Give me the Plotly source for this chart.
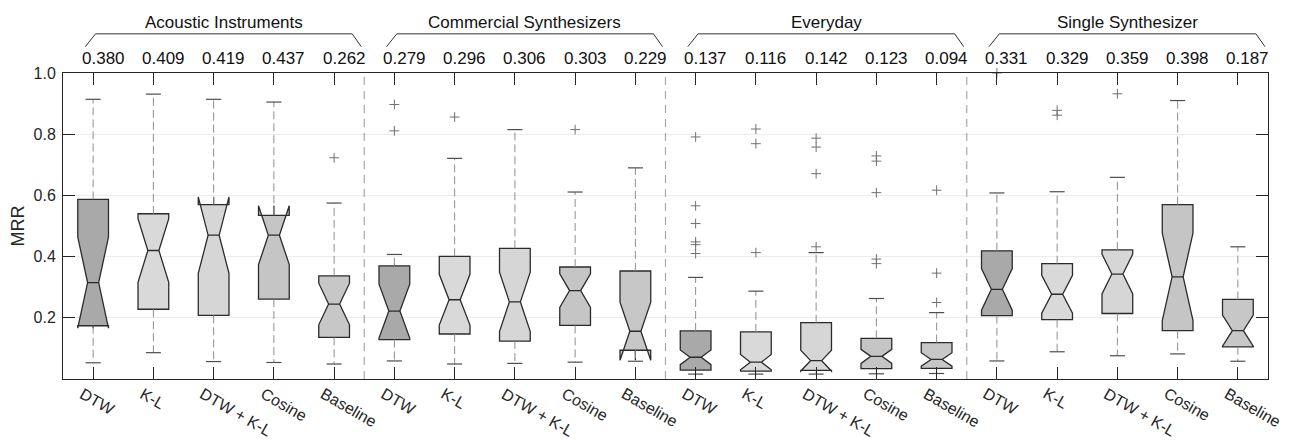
import plotly.graph_objects as go

# ---------------- data ----------------
groups = ["Acoustic Instruments", "Commercial Synthesizers", "Everyday", "Single Synthesizer"]
methods = ["DTW", "K-L", "DTW + K-L", "Cosine", "Baseline"]

mrr = [
    [0.380, 0.409, 0.419, 0.437, 0.262],
    [0.279, 0.296, 0.306, 0.303, 0.229],
    [0.137, 0.116, 0.142, 0.123, 0.094],
    [0.331, 0.329, 0.359, 0.398, 0.187],
]

q1 = [
    [0.174, 0.228, 0.208, 0.261, 0.136],
    [0.129, 0.147, 0.124, 0.175, 0.094],
    [0.029, 0.026, 0.028, 0.034, 0.035],
    [0.207, 0.194, 0.214, 0.158, 0.105],
]
median = [
    [0.315, 0.420, 0.470, 0.470, 0.245],
    [0.222, 0.259, 0.252, 0.289, 0.156],
    [0.071, 0.055, 0.060, 0.074, 0.064],
    [0.293, 0.277, 0.343, 0.334, 0.158],
]
q3 = [
    [0.587, 0.540, 0.570, 0.535, 0.337],
    [0.370, 0.401, 0.427, 0.366, 0.353],
    [0.157, 0.154, 0.184, 0.133, 0.119],
    [0.419, 0.377, 0.422, 0.570, 0.260],
]
notch = [
    [0.149, 0.104, 0.125, 0.096, 0.068],
    [0.088, 0.083, 0.097, 0.055, 0.095],
    [0.024, 0.025, 0.034, 0.023, 0.022],
    [0.068, 0.062, 0.065, 0.143, 0.051],
]
whisker_low = [
    [0.053, 0.086, 0.057, 0.054, 0.049],
    [0.059, 0.049, 0.051, 0.055, 0.058],
    [0.016, 0.016, 0.016, 0.017, 0.018],
    [0.059, 0.089, 0.076, 0.082, 0.058],
]
whisker_high = [
    [0.914, 0.931, 0.914, 0.905, 0.575],
    [0.407, 0.721, 0.815, 0.611, 0.690],
    [0.332, 0.287, 0.413, 0.263, 0.217],
    [0.608, 0.612, 0.659, 0.910, 0.432],
]
outliers = [
    [[], [], [], [], [0.723]],
    [[0.897, 0.811], [0.856], [], [0.815], []],
    [[0.791, 0.566, 0.508, 0.448, 0.439, 0.410], [0.817, 0.769, 0.413],
     [0.787, 0.758, 0.671, 0.432], [0.729, 0.712, 0.609, 0.392, 0.377], [0.617, 0.346, 0.250]],
    [[1.0], [0.878, 0.862], [0.932], [], []],
]

# ---------------- styles ----------------
fill_colors = ["#a9a9aa", "#d9d9da", "#d6d6d7", "#c5c5c6", "#c7c7c8"]
FONT = "Liberation Sans, Arial, Helvetica, sans-serif"
TXT = "#262626"

n_g, n_m = len(groups), len(methods)
pos = lambda g, m: g * n_m + m + 1

fig = go.Figure()

# notched boxes (one trace per method)
for m in range(n_m):
    xs = [pos(g, m) for g in range(n_g)]
    fig.add_trace(go.Box(
        x=xs,
        q1=[q1[g][m] for g in range(n_g)],
        median=[median[g][m] for g in range(n_g)],
        q3=[q3[g][m] for g in range(n_g)],
        lowerfence=[q1[g][m] for g in range(n_g)],
        upperfence=[q3[g][m] for g in range(n_g)],
        notchspan=[notch[g][m] for g in range(n_g)],
        notched=True, notchwidth=0.32,
        width=0.51, whiskerwidth=0,
        fillcolor=fill_colors[m],
        line=dict(color="#2b2b2b", width=1.3),
        boxpoints=False, hoverinfo="skip", showlegend=False,
    ))

# dashed whiskers
wx, wy, cx, cy = [], [], [], []
for g in range(n_g):
    for m in range(n_m):
        p = pos(g, m)
        wx += [p, p, None, p, p, None]
        wy += [q3[g][m], whisker_high[g][m], None, q1[g][m], whisker_low[g][m], None]
        for v in (whisker_high[g][m], whisker_low[g][m]):
            cx += [p - 0.125, p + 0.125, None]
            cy += [v, v, None]
fig.add_trace(go.Scatter(x=wx, y=wy, mode="lines",
                         line=dict(color="#8e8e8e", width=1, dash="8px,4px"),
                         hoverinfo="skip", showlegend=False))
fig.add_trace(go.Scatter(x=cx, y=cy, mode="lines",
                         line=dict(color="#4d4d4d", width=1.2),
                         hoverinfo="skip", showlegend=False))

# outliers
ox, oy = [], []
for g in range(n_g):
    for m in range(n_m):
        for v in outliers[g][m]:
            ox.append(pos(g, m))
            oy.append(v)
fig.add_trace(go.Scatter(x=ox, y=oy, mode="markers",
                         marker=dict(symbol="cross-thin", size=7,
                                     line=dict(color="#707070", width=1)),
                         hoverinfo="skip", showlegend=False, cliponaxis=False))

# group separators
for g in range(1, n_g):
    fig.add_shape(type="line", xref="x", yref="paper",
                  x0=g * n_m + 0.5, x1=g * n_m + 0.5, y0=0, y1=1,
                  line=dict(color="#a8a8a8", width=1.2, dash="8px,6px"))

# MRR values, brackets and group titles
for g in range(n_g):
    first, last = pos(g, 0), pos(g, n_m - 1)
    for m in range(n_m):
        fig.add_annotation(x=pos(g, m), xshift=10, y=1, yref="paper", yshift=15,
                           xanchor="center", yanchor="middle",
                           xref="x", text=f"{mrr[g][m]:.3f}", showarrow=False,
                           font=dict(family=FONT, size=17, color="#111111"))
    fig.add_shape(type="path", xref="x", yref="paper",
                  path=(f"M {first - 0.13} 1.086 L {first + 0.04} 1.128 "
                        f"L {last + 0.30} 1.128 L {last + 0.45} 1.086"),
                  line=dict(color="#333333", width=1))
    fig.add_annotation(x=(first + last) / 2, xshift=10, y=1, yref="paper", yshift=51,
                       xanchor="center", yanchor="middle",
                       xref="x", text=groups[g], showarrow=False,
                       font=dict(family=FONT, size=17, color="#111111"))

# rotated category labels
for g in range(n_g):
    for m in range(n_m):
        fig.add_annotation(x=pos(g, m), xref="x", y=0, yref="paper",
                           xanchor="left", yanchor="top", xshift=-19, yshift=-3,
                           text=methods[m], textangle=30, showarrow=False,
                           font=dict(family=FONT, size=16, color=TXT))

tick_pos = [pos(g, m) for g in range(n_g) for m in range(n_m)]

fig.update_layout(
    width=1286, height=433,
    margin=dict(l=55, r=26, t=65, b=62),
    paper_bgcolor="white", plot_bgcolor="white",
    boxmode="overlay",
    font=dict(family=FONT, size=16, color=TXT),
    xaxis=dict(range=[0.5, 20.5], tickvals=tick_pos, showticklabels=False,
               ticks="inside", ticklen=12, tickcolor="#262626",
               showline=True, linecolor="#262626", linewidth=1, mirror="ticks",
               showgrid=False, zeroline=False, automargin=False),
    yaxis=dict(range=[0, 1], tickvals=[0.2, 0.4, 0.6, 0.8, 1.0],
               ticktext=["0.2", "0.4", "0.6", "0.8", "1.0"],
               ticks="inside", ticklen=12, tickcolor="#262626",
               showline=True, linecolor="#262626", linewidth=1, mirror="ticks",
               showgrid=True, gridcolor="#ececec", gridwidth=1, zeroline=False,
               automargin=False, ticklabelstandoff=3,
               tickfont=dict(family=FONT, size=16, color=TXT),
               title=dict(text="MRR", font=dict(family=FONT, size=18, color=TXT),
                          standoff=6)),
)

fig.write_html("out.html")
